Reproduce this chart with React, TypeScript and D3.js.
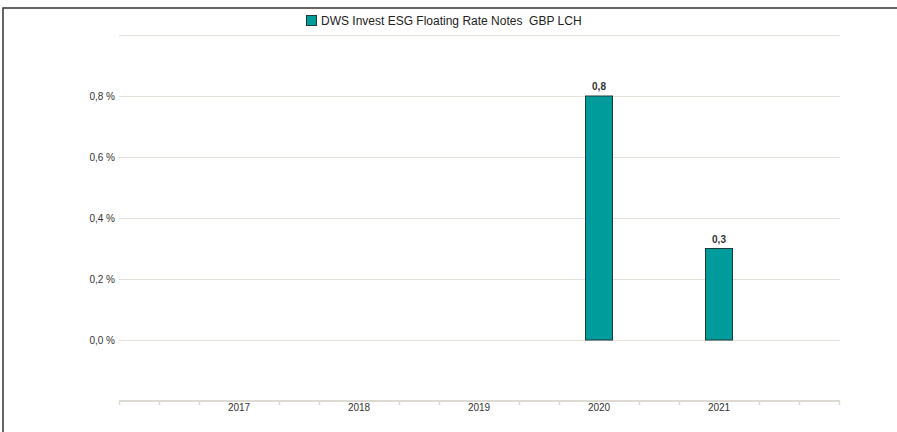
import { useEffect, useRef } from 'react'
import { scaleLinear, scalePoint, select, range } from 'd3'

const years = ['2017', '2018', '2019', '2020', '2021']
const returns: (number | null)[] = [null, null, null, 0.8, 0.3]
const yTicks = [0, 0.2, 0.4, 0.6, 0.8]
const seriesName = 'DWS Invest ESG Floating Rate Notes  GBP LCH'

const dims = {
  width: 897,
  height: 432,
  left: 119,
  right: 839,
  top: 35,
  bottom: 401,
}

const fmt = (v: number) => v.toFixed(1).replace('.', ',')

const App = () => {
  const ref = useRef<SVGSVGElement | null>(null)

  useEffect(() => {
    const svg = select(ref.current)
    svg.selectAll('*').remove()

    const x = scalePoint<string>()
      .domain(years)
      .range([dims.left, dims.right])
      .padding(1)
    const y = scaleLinear().domain([-0.2, 1.0]).range([dims.bottom, dims.top])
    const step = x.step()
    const barW = 27

    // outer frame
    svg.append('rect')
      .attr('x', 3).attr('y', 8)
      .attr('width', 1000).attr('height', 600)
      .attr('fill', 'none').attr('stroke', '#333').attr('stroke-width', 1.5)

    // legend
    const lg = svg.append('g').attr('transform', 'translate(306,15)')
    lg.append('rect')
      .attr('x', 0.5).attr('y', 0.5).attr('width', 10).attr('height', 10)
      .attr('fill', '#009b9b').attr('stroke', '#1e3b3b')
    lg.append('text')
      .attr('x', 15).attr('y', 9.5)
      .attr('font-family', 'Arial, Liberation Sans, sans-serif')
      .attr('font-size', 12).attr('fill', '#222')
      .attr('xml:space', 'preserve')
      .text(seriesName)

    // grid
    const gridVals = [...yTicks, 1.0]
    svg.append('g').selectAll('line').data(gridVals).enter().append('line')
      .attr('x1', dims.left).attr('x2', dims.right + 1)
      .attr('y1', d => Math.round(y(d)) + 0.5).attr('y2', d => Math.round(y(d)) + 0.5)
      .attr('stroke', '#e2e0d9').attr('stroke-width', 1.2)

    // y labels
    svg.append('g').selectAll('text').data(yTicks).enter().append('text')
      .attr('x', dims.left - 4).attr('y', d => y(d) + 4)
      .attr('text-anchor', 'end')
      .attr('font-family', 'Arial, Liberation Sans, sans-serif')
      .attr('font-size', 10).attr('fill', '#333')
      .text(d => `${fmt(d)} %`)

    // x axis
    const axisY = dims.bottom
    svg.append('line')
      .attr('x1', dims.left).attr('x2', dims.right + 1)
      .attr('y1', axisY).attr('y2', axisY)
      .attr('stroke', '#dcdad2').attr('stroke-width', 2)
    const minor = range(0, 19).map(i => dims.left + i * (step / 3))
      .filter((_, i) => i % 3 !== 0 || i === 0 || i === 18)
    svg.append('g').selectAll('line').data(minor).enter().append('line')
      .attr('x1', d => d + 0.5).attr('x2', d => d + 0.5)
      .attr('y1', axisY).attr('y2', axisY + 4)
      .attr('stroke', '#dcdad2').attr('stroke-width', 1.5)
    svg.append('g').selectAll('text').data(years).enter().append('text')
      .attr('x', d => x(d)!).attr('y', axisY + 10)
      .attr('text-anchor', 'middle')
      .attr('font-family', 'Arial, Liberation Sans, sans-serif')
      .attr('font-size', 10).attr('fill', '#333')
      .text(d => d)

    // bars
    const data = years.map((yr, i) => ({ yr, v: returns[i] })).filter(d => d.v !== null) as { yr: string, v: number }[]
    svg.append('g').selectAll('rect').data(data).enter().append('rect')
      .attr('x', d => x(d.yr)! - barW / 2)
      .attr('y', d => y(d.v))
      .attr('width', barW)
      .attr('height', d => y(0) - y(d.v))
      .attr('fill', '#009b9b').attr('stroke', '#1e3b3b').attr('stroke-width', 1)
    svg.append('g').selectAll('text').data(data).enter().append('text')
      .attr('x', d => x(d.yr)!)
      .attr('y', d => y(d.v) - 6)
      .attr('text-anchor', 'middle')
      .attr('font-family', 'Arial, Liberation Sans, sans-serif')
      .attr('font-size', 10).attr('font-weight', 'bold').attr('fill', '#333')
      .text(d => fmt(d.v))
  }, [])

  return (
    <svg ref={ref} width={dims.width} height={dims.height}
      style={{ position: 'absolute', left: 0, top: 0, background: '#fff' }} />
  )
}

export default App
